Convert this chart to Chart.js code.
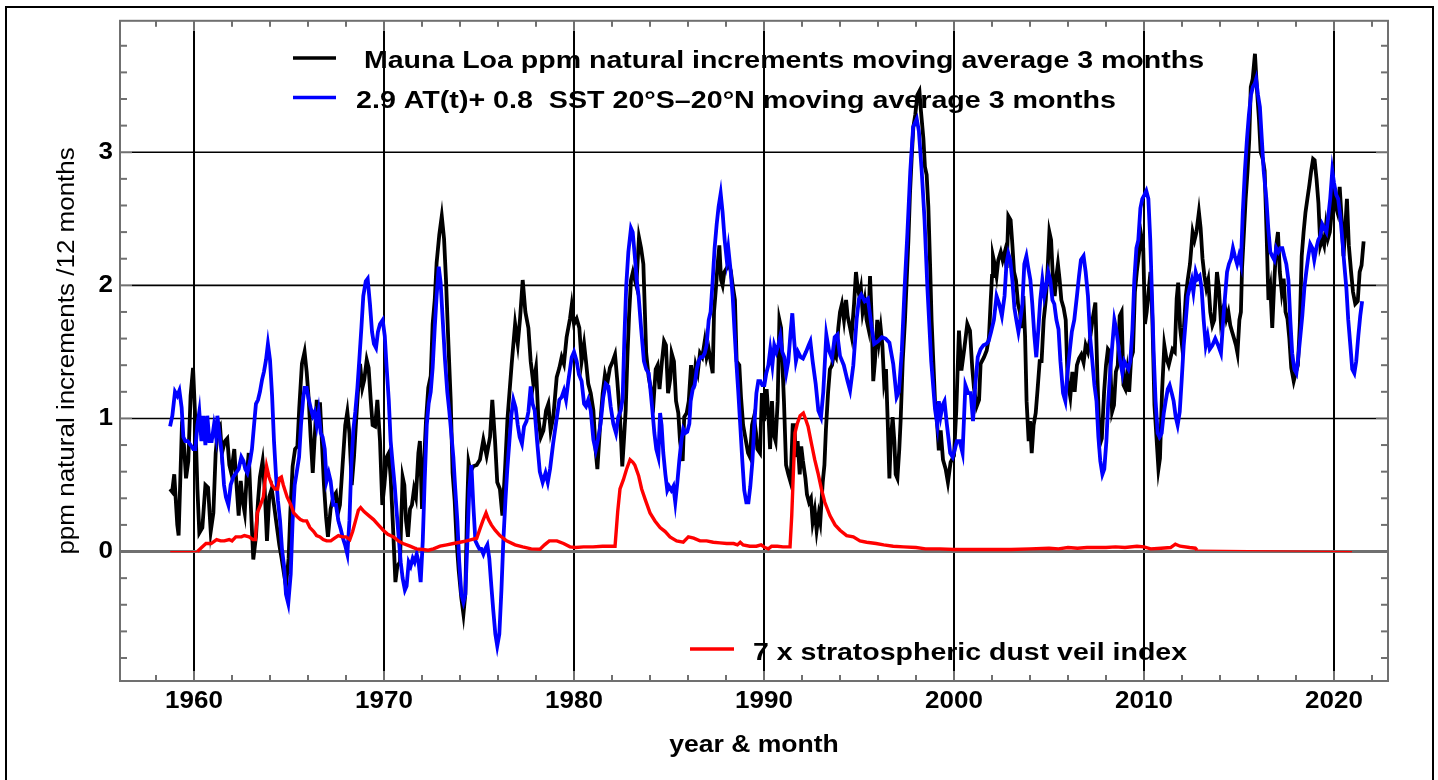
<!DOCTYPE html>
<html><head><meta charset="utf-8">
<script src="https://cdn.jsdelivr.net/npm/chart.js@4.4.1/dist/chart.umd.min.js"></script>
<style>
html,body{margin:0;padding:0;background:#fff;}
#wrap{position:relative;width:1438px;height:780px;overflow:hidden;background:#fff;}
#c{position:absolute;left:0;top:0;}
#frame{position:absolute;left:5px;top:6px;width:1425px;height:820px;border:2px solid #000;pointer-events:none;}
</style></head><body>
<div id="wrap"><canvas id="c" width="1438" height="780"></canvas><div id="frame"></div></div>
<script>
// ---------- DATA ----------
const mlYears = [1958.74,1958.85,1958.96,1959.12,1959.19,1959.35,1959.47,1959.58,1959.70,1959.82,1959.95,1960.07,1960.18,1960.28,1960.44,1960.60,1960.74,1960.88,1961.02,1961.14,1961.25,1961.37,1961.47,1961.63,1961.75,1961.86,1961.96,1962.12,1962.21,1962.35,1962.46,1962.56,1962.67,1962.77,1962.88,1962.98,1963.12,1963.26,1963.37,1963.47,1963.61,1963.72,1963.84,1963.96,1964.09,1964.21,1964.35,1964.49,1964.61,1964.74,1964.84,1964.98,1965.07,1965.19,1965.32,1965.44,1965.54,1965.68,1965.82,1965.93,1966.04,1966.14,1966.25,1966.46,1966.54,1966.63,1966.74,1966.84,1966.95,1967.05,1967.19,1967.33,1967.47,1967.58,1967.68,1967.82,1967.96,1968.07,1968.18,1968.30,1968.42,1968.53,1968.63,1968.74,1968.86,1968.96,1969.09,1969.19,1969.30,1969.40,1969.53,1969.65,1969.79,1969.91,1970.02,1970.14,1970.25,1970.35,1970.46,1970.60,1970.70,1970.84,1970.98,1971.07,1971.16,1971.26,1971.37,1971.47,1971.58,1971.68,1971.81,1971.89,1972.00,1972.11,1972.21,1972.33,1972.46,1972.56,1972.67,1972.77,1972.91,1973.04,1973.16,1973.26,1973.39,1973.51,1973.61,1973.72,1973.82,1973.93,1974.07,1974.18,1974.28,1974.37,1974.45,1974.55,1974.70,1974.88,1975.05,1975.23,1975.40,1975.58,1975.70,1975.84,1975.96,1976.10,1976.23,1976.37,1976.50,1976.72,1976.90,1977.04,1977.16,1977.30,1977.44,1977.60,1977.72,1977.86,1978.00,1978.12,1978.25,1978.39,1978.53,1978.65,1978.77,1978.91,1979.09,1979.23,1979.35,1979.47,1979.61,1979.79,1979.88,1980.00,1980.14,1980.28,1980.40,1980.53,1980.63,1980.75,1980.88,1981.02,1981.14,1981.23,1981.37,1981.51,1981.63,1981.75,1981.89,1982.04,1982.16,1982.28,1982.42,1982.54,1982.63,1982.72,1982.81,1982.90,1983.00,1983.10,1983.28,1983.42,1983.53,1983.65,1983.80,1983.93,1984.05,1984.19,1984.30,1984.40,1984.50,1984.63,1984.74,1984.84,1984.95,1985.07,1985.14,1985.26,1985.37,1985.49,1985.58,1985.72,1985.80,1985.93,1986.04,1986.16,1986.28,1986.40,1986.51,1986.63,1986.75,1986.88,1986.98,1987.09,1987.19,1987.30,1987.37,1987.47,1987.56,1987.65,1987.74,1987.82,1987.91,1988.04,1988.14,1988.25,1988.35,1988.47,1988.56,1988.70,1988.79,1988.90,1989.05,1989.16,1989.26,1989.37,1989.47,1989.58,1989.65,1989.79,1989.89,1990.00,1990.14,1990.25,1990.32,1990.42,1990.49,1990.61,1990.72,1990.81,1990.90,1990.98,1991.05,1991.16,1991.28,1991.40,1991.51,1991.60,1991.67,1991.77,1991.88,1991.96,1992.05,1992.18,1992.26,1992.37,1992.47,1992.56,1992.67,1992.77,1992.88,1992.96,1993.09,1993.18,1993.26,1993.37,1993.47,1993.58,1993.68,1993.79,1993.91,1994.00,1994.10,1994.21,1994.32,1994.40,1994.53,1994.61,1994.74,1994.84,1994.93,1995.02,1995.10,1995.19,1995.30,1995.40,1995.49,1995.58,1995.67,1995.75,1995.84,1995.96,1996.05,1996.14,1996.23,1996.32,1996.42,1996.51,1996.60,1996.67,1996.77,1996.86,1996.93,1997.02,1997.12,1997.19,1997.30,1997.42,1997.51,1997.60,1997.68,1997.77,1997.86,1997.96,1998.07,1998.18,1998.26,1998.39,1998.47,1998.56,1998.65,1998.74,1998.82,1998.91,1999.00,1999.09,1999.20,1999.30,1999.42,1999.56,1999.68,1999.82,2000.00,2000.12,2000.26,2000.39,2000.53,2000.70,2000.84,2000.96,2001.05,2001.19,2001.32,2001.40,2001.58,2001.72,2001.84,2001.93,2002.00,2002.05,2002.14,2002.24,2002.33,2002.46,2002.56,2002.67,2002.77,2002.86,2002.98,2003.07,2003.16,2003.26,2003.37,2003.47,2003.56,2003.65,2003.74,2003.82,2003.93,2004.00,2004.09,2004.19,2004.30,2004.40,2004.51,2004.61,2004.72,2004.83,2004.93,2005.02,2005.11,2005.21,2005.30,2005.39,2005.47,2005.56,2005.65,2005.77,2005.88,2005.98,2006.12,2006.23,2006.35,2006.47,2006.58,2006.70,2006.82,2006.93,2007.05,2007.16,2007.30,2007.44,2007.55,2007.67,2007.78,2007.90,2008.00,2008.10,2008.20,2008.32,2008.42,2008.52,2008.62,2008.72,2008.82,2008.92,2009.02,2009.12,2009.22,2009.32,2009.42,2009.52,2009.62,2009.72,2009.86,2009.96,2010.05,2010.14,2010.24,2010.34,2010.44,2010.55,2010.66,2010.76,2010.84,2010.95,2011.07,2011.18,2011.30,2011.40,2011.50,2011.62,2011.72,2011.80,2011.90,2012.00,2012.10,2012.20,2012.30,2012.42,2012.56,2012.66,2012.76,2012.89,2012.98,2013.08,2013.18,2013.28,2013.38,2013.49,2013.60,2013.70,2013.84,2013.94,2014.04,2014.14,2014.24,2014.34,2014.44,2014.54,2014.64,2014.74,2014.84,2014.92,2015.02,2015.10,2015.16,2015.26,2015.35,2015.45,2015.54,2015.62,2015.72,2015.84,2015.95,2016.05,2016.14,2016.25,2016.35,2016.45,2016.55,2016.65,2016.75,2016.86,2016.96,2017.05,2017.15,2017.25,2017.35,2017.45,2017.55,2017.65,2017.75,2017.88,2018.00,2018.10,2018.20,2018.30,2018.40,2018.50,2018.60,2018.70,2018.80,2018.90,2018.98,2019.08,2019.18,2019.28,2019.38,2019.48,2019.58,2019.68,2019.78,2019.88,2019.98,2020.08,2020.18,2020.30,2020.40,2020.50,2020.60,2020.68,2020.78,2020.90,2021.00,2021.12,2021.25,2021.35,2021.45,2021.56];
const mlValues = [0.47,0.45,0.58,0.20,0.12,0.88,0.80,0.55,0.68,1.17,1.38,0.98,0.47,0.14,0.18,0.50,0.48,0.15,0.29,0.74,0.91,0.94,0.74,0.83,0.85,0.65,0.59,0.77,0.56,0.27,0.53,0.38,0.29,0.56,0.74,0.38,-0.06,0.11,0.38,0.56,0.68,0.47,0.08,0.41,0.47,0.35,0.20,0.05,-0.05,-0.17,-0.26,-0.05,0.29,0.64,0.77,0.79,1.08,1.41,1.50,1.35,1.14,0.86,0.59,1.14,0.98,1.12,0.80,0.50,0.26,0.11,0.32,0.41,0.44,0.29,0.35,0.65,0.95,1.05,0.89,0.50,0.71,0.98,1.20,1.41,1.23,1.29,1.44,1.38,1.14,0.95,0.94,1.14,0.83,0.35,0.50,0.71,0.74,0.56,0.23,-0.23,-0.11,-0.08,0.56,0.50,0.23,0.11,0.32,0.35,0.47,0.41,0.74,0.83,0.32,0.68,0.98,1.23,1.32,1.71,1.89,2.17,2.38,2.52,2.35,2.05,1.56,1.14,0.59,0.38,0.08,-0.14,-0.35,-0.47,-0.32,0.30,0.67,0.60,0.64,0.65,0.69,0.84,0.72,0.86,1.14,0.84,0.52,0.47,0.27,0.62,1.00,1.41,1.71,1.56,1.75,2.04,1.80,1.68,1.43,1.26,1.38,1.01,0.86,0.91,1.06,1.11,0.91,1.01,1.31,1.38,1.46,1.41,1.61,1.75,1.85,1.71,1.75,1.68,1.43,1.56,1.43,1.26,1.19,1.06,0.76,0.62,0.94,1.19,1.33,1.26,1.38,1.43,1.48,1.28,1.01,0.64,0.84,1.06,1.46,1.78,2.04,2.10,2.00,2.36,2.28,2.16,1.49,1.31,1.22,1.13,1.37,1.40,1.22,1.43,1.58,1.55,1.19,1.30,1.49,1.43,1.13,1.04,0.83,0.68,1.01,1.04,1.13,1.40,1.22,1.40,1.34,1.49,1.46,1.58,1.46,1.52,1.43,1.34,1.80,1.98,2.16,2.30,2.04,2.00,2.10,2.13,2.16,2.11,2.00,1.89,1.43,1.40,1.16,0.95,0.83,0.74,0.71,0.95,1.01,0.89,0.77,0.74,1.19,0.98,1.22,0.98,0.77,1.13,0.89,0.83,1.13,1.74,1.68,1.37,1.13,0.65,0.58,0.52,0.95,0.95,0.71,0.83,0.58,0.79,0.68,0.55,0.43,0.37,0.40,0.22,0.31,0.16,0.28,0.22,0.52,0.65,0.92,1.19,1.37,1.40,1.49,1.46,1.68,1.80,1.86,1.74,1.89,1.77,1.68,1.62,1.86,2.10,1.98,1.92,1.98,1.80,1.89,1.74,1.68,2.07,1.74,1.28,1.43,1.74,1.58,1.68,1.55,1.28,1.37,0.98,0.55,0.83,1.01,0.83,0.58,0.55,0.77,0.98,1.43,1.74,2.04,2.34,2.68,2.95,3.19,3.28,3.43,3.46,3.31,3.10,2.89,2.83,2.59,2.16,1.74,1.43,1.13,1.01,0.76,0.91,0.69,0.62,0.52,0.67,0.72,1.06,1.66,1.36,1.51,1.71,1.66,1.38,1.23,1.09,1.14,1.41,1.46,1.51,1.61,1.88,2.07,2.22,2.16,2.07,2.19,2.25,2.19,2.25,2.13,2.52,2.49,2.31,2.10,2.04,1.86,1.80,1.68,1.92,1.62,1.13,0.83,0.98,0.74,0.95,1.04,1.22,1.43,1.43,1.74,1.89,2.13,2.40,2.34,2.04,1.92,2.07,2.16,2.04,1.89,1.83,1.74,1.28,1.16,1.35,1.20,1.40,1.45,1.48,1.42,1.55,1.50,1.60,1.75,1.87,1.30,0.80,0.85,1.20,1.40,1.52,1.50,1.05,1.10,1.35,1.40,1.77,1.80,1.25,1.22,1.35,1.20,1.45,1.50,1.95,2.10,2.22,2.37,2.28,1.71,1.80,1.95,2.10,1.75,1.10,0.85,0.62,0.70,1.20,1.55,1.45,1.40,1.46,1.52,1.50,1.90,2.02,1.68,1.55,1.68,1.92,2.04,2.16,2.40,2.34,2.40,2.55,2.43,2.20,2.07,1.98,2.04,1.80,1.70,1.74,2.10,1.98,1.74,1.82,1.86,1.75,1.80,1.70,1.65,1.60,1.55,1.49,1.74,1.80,2.13,2.40,2.65,2.86,3.10,3.49,3.55,3.74,3.46,3.25,3.00,2.95,2.86,2.40,1.89,1.98,1.68,2.04,2.30,2.40,2.10,1.95,2.05,1.80,1.75,1.60,1.38,1.28,1.35,1.40,1.70,2.22,2.40,2.55,2.65,2.75,2.86,2.95,2.94,2.80,2.62,2.30,2.35,2.30,2.45,2.35,2.40,2.55,2.70,2.60,2.55,2.74,2.50,2.22,2.45,2.65,2.30,2.10,1.95,1.86,1.88,2.10,2.15,2.33];

const sstYears = [1958.74,1958.86,1959.00,1959.12,1959.23,1959.35,1959.44,1959.54,1959.67,1959.82,1959.96,1960.07,1960.18,1960.28,1960.39,1960.49,1960.60,1960.70,1960.81,1960.93,1961.05,1961.16,1961.23,1961.33,1961.46,1961.58,1961.68,1961.81,1961.93,1962.07,1962.21,1962.35,1962.49,1962.60,1962.70,1962.81,1962.95,1963.05,1963.16,1963.26,1963.37,1963.47,1963.58,1963.68,1963.79,1963.89,1964.00,1964.11,1964.21,1964.32,1964.42,1964.53,1964.63,1964.74,1964.84,1964.96,1965.09,1965.19,1965.30,1965.40,1965.53,1965.63,1965.74,1965.82,1965.93,1966.04,1966.14,1966.25,1966.35,1966.46,1966.56,1966.67,1966.77,1966.88,1966.98,1967.09,1967.19,1967.33,1967.47,1967.60,1967.72,1967.82,1967.95,1968.07,1968.18,1968.28,1968.39,1968.49,1968.60,1968.70,1968.81,1968.91,1969.04,1969.14,1969.26,1969.37,1969.47,1969.58,1969.68,1969.79,1969.93,1970.04,1970.14,1970.25,1970.35,1970.46,1970.56,1970.67,1970.77,1970.88,1970.98,1971.10,1971.19,1971.30,1971.40,1971.51,1971.61,1971.72,1971.82,1971.93,1972.04,1972.14,1972.25,1972.35,1972.46,1972.56,1972.67,1972.77,1972.88,1972.98,1973.09,1973.21,1973.33,1973.44,1973.54,1973.65,1973.75,1973.86,1973.96,1974.07,1974.18,1974.28,1974.39,1974.49,1974.60,1974.70,1974.81,1974.91,1975.02,1975.12,1975.23,1975.33,1975.44,1975.54,1975.65,1975.75,1975.86,1975.96,1976.07,1976.18,1976.28,1976.39,1976.49,1976.60,1976.70,1976.81,1976.93,1977.04,1977.14,1977.26,1977.37,1977.50,1977.60,1977.72,1977.82,1977.93,1978.05,1978.20,1978.35,1978.50,1978.62,1978.74,1978.90,1979.10,1979.23,1979.35,1979.47,1979.58,1979.70,1979.88,1980.00,1980.14,1980.26,1980.40,1980.53,1980.63,1980.75,1980.88,1981.02,1981.14,1981.26,1981.40,1981.54,1981.67,1981.81,1981.93,1982.07,1982.21,1982.33,1982.46,1982.56,1982.65,1982.75,1982.86,1983.00,1983.09,1983.20,1983.30,1983.40,1983.53,1983.68,1983.80,1983.93,1984.02,1984.12,1984.23,1984.33,1984.44,1984.53,1984.61,1984.70,1984.81,1984.91,1985.00,1985.12,1985.23,1985.33,1985.44,1985.54,1985.65,1985.75,1985.86,1985.96,1986.07,1986.14,1986.25,1986.35,1986.46,1986.56,1986.67,1986.77,1986.88,1986.98,1987.09,1987.19,1987.30,1987.40,1987.51,1987.61,1987.72,1987.82,1987.93,1988.04,1988.12,1988.25,1988.35,1988.44,1988.54,1988.65,1988.75,1988.86,1988.96,1989.07,1989.18,1989.28,1989.39,1989.49,1989.60,1989.70,1989.81,1989.91,1990.02,1990.12,1990.23,1990.33,1990.44,1990.54,1990.65,1990.75,1990.86,1990.96,1991.07,1991.17,1991.28,1991.40,1991.49,1991.58,1991.68,1991.79,1991.93,1992.05,1992.21,1992.35,1992.44,1992.56,1992.72,1992.86,1993.00,1993.12,1993.28,1993.42,1993.58,1993.72,1993.86,1994.00,1994.20,1994.40,1994.53,1994.70,1994.88,1995.00,1995.12,1995.30,1995.47,1995.67,1995.80,1996.00,1996.20,1996.40,1996.60,1996.80,1996.98,1997.10,1997.25,1997.40,1997.55,1997.70,1997.85,1998.04,1998.15,1998.30,1998.45,1998.60,1998.80,1999.00,1999.12,1999.20,1999.30,1999.40,1999.50,1999.62,1999.80,1999.93,2000.05,2000.15,2000.30,2000.45,2000.60,2000.75,2000.88,2001.00,2001.12,2001.25,2001.40,2001.55,2001.70,2001.82,2001.95,2002.10,2002.24,2002.38,2002.52,2002.66,2002.76,2002.86,2002.96,2003.07,2003.18,2003.28,2003.39,2003.50,2003.60,2003.70,2003.81,2003.91,2004.02,2004.12,2004.23,2004.33,2004.44,2004.54,2004.65,2004.75,2004.86,2004.96,2005.07,2005.18,2005.28,2005.39,2005.50,2005.60,2005.74,2005.86,2005.95,2006.10,2006.20,2006.33,2006.47,2006.58,2006.68,2006.82,2006.93,2007.05,2007.16,2007.28,2007.39,2007.50,2007.60,2007.70,2007.81,2007.91,2008.02,2008.12,2008.23,2008.33,2008.44,2008.54,2008.65,2008.75,2008.86,2008.96,2009.07,2009.18,2009.28,2009.39,2009.49,2009.60,2009.70,2009.81,2009.91,2010.02,2010.12,2010.23,2010.33,2010.42,2010.51,2010.61,2010.72,2010.82,2010.93,2011.04,2011.14,2011.25,2011.35,2011.46,2011.56,2011.67,2011.77,2011.88,2011.98,2012.09,2012.20,2012.30,2012.40,2012.51,2012.60,2012.72,2012.82,2012.93,2013.03,2013.14,2013.25,2013.35,2013.46,2013.60,2013.75,2013.90,2014.05,2014.20,2014.37,2014.47,2014.58,2014.68,2014.78,2014.90,2015.00,2015.10,2015.20,2015.31,2015.42,2015.52,2015.63,2015.73,2015.84,2015.90,2016.00,2016.10,2016.20,2016.30,2016.44,2016.54,2016.65,2016.75,2016.86,2016.96,2017.07,2017.17,2017.28,2017.38,2017.49,2017.60,2017.70,2017.80,2017.91,2018.02,2018.12,2018.23,2018.33,2018.44,2018.54,2018.65,2018.75,2018.86,2018.96,2019.07,2019.17,2019.28,2019.38,2019.49,2019.60,2019.70,2019.80,2019.91,2020.00,2020.12,2020.22,2020.33,2020.44,2020.54,2020.65,2020.75,2020.86,2020.96,2021.07,2021.17,2021.28,2021.38,2021.48];
const sstValues = [0.94,1.02,1.20,1.17,1.21,1.08,0.86,0.83,0.83,0.80,0.77,0.77,0.95,1.05,0.83,1.02,0.80,1.02,0.83,0.83,0.95,0.86,1.02,0.89,0.74,0.50,0.41,0.35,0.50,0.56,0.59,0.62,0.71,0.68,0.62,0.59,0.68,0.77,0.95,1.11,1.14,1.20,1.29,1.35,1.44,1.56,1.44,1.17,0.83,0.56,0.38,0.23,0.02,-0.11,-0.32,-0.39,-0.17,0.23,0.50,0.59,0.71,0.95,1.14,1.23,1.23,1.14,1.08,1.02,1.05,0.95,1.05,0.89,0.86,0.77,0.53,0.59,0.53,0.35,0.35,0.23,0.17,0.11,0.05,-0.02,0.23,0.65,0.92,1.05,1.23,1.44,1.68,1.92,2.03,2.05,1.86,1.65,1.56,1.53,1.65,1.71,1.74,1.62,1.38,1.14,0.83,0.65,0.50,0.29,0.11,-0.08,-0.20,-0.29,-0.26,-0.08,-0.11,-0.05,-0.08,-0.02,-0.08,-0.23,0.08,0.53,0.95,1.11,1.20,1.38,1.68,1.92,2.14,2.02,1.74,1.44,1.20,1.05,0.89,0.71,0.47,0.23,-0.08,-0.32,-0.38,-0.32,0.08,0.47,0.65,0.35,0.08,0.05,0.02,0.02,-0.02,0.02,0.05,-0.05,-0.26,-0.44,-0.62,-0.71,-0.62,-0.29,0.08,0.38,0.62,0.83,1.02,1.14,1.08,0.95,0.86,0.81,0.94,0.98,1.05,1.24,1.11,1.06,0.84,0.60,0.52,0.59,0.52,0.62,0.81,1.01,1.14,1.16,1.21,1.14,1.28,1.46,1.50,1.43,1.33,1.28,1.11,1.09,1.14,1.06,0.84,0.76,0.84,0.96,1.16,1.26,1.24,1.09,0.96,0.89,1.01,1.06,1.15,1.60,2.00,2.25,2.43,2.40,2.22,2.04,1.92,1.68,1.43,1.37,1.34,1.22,1.07,0.89,0.77,0.71,1.04,0.95,0.74,0.58,0.46,0.49,0.46,0.49,0.37,0.52,0.68,0.83,0.92,0.89,0.90,0.96,1.13,1.22,1.25,1.37,1.43,1.46,1.46,1.49,1.55,1.74,1.80,2.04,2.28,2.46,2.59,2.69,2.55,2.34,2.19,2.28,2.10,1.92,1.68,1.43,1.19,0.95,0.68,0.46,0.37,0.37,0.49,0.68,0.95,1.19,1.28,1.28,1.25,1.25,1.34,1.40,1.52,1.40,1.55,1.50,1.55,1.62,1.50,1.46,1.34,1.43,1.65,1.79,1.60,1.43,1.50,1.46,1.45,1.50,1.55,1.58,1.43,1.26,1.06,1.01,1.20,1.63,1.51,1.45,1.61,1.63,1.47,1.40,1.28,1.21,1.40,1.75,1.90,1.93,1.88,1.90,1.68,1.56,1.58,1.61,1.60,1.57,1.41,1.16,1.20,1.50,1.98,2.40,2.86,3.19,3.25,3.16,2.86,2.49,1.98,1.43,1.07,0.95,1.13,1.02,1.10,1.13,0.96,0.74,0.71,0.77,0.83,0.83,0.74,1.25,1.19,1.19,0.98,1.25,1.46,1.52,1.55,1.56,1.58,1.65,1.74,1.92,1.86,1.77,1.92,2.16,2.24,2.19,2.04,1.83,1.74,1.65,1.75,1.86,2.16,2.22,2.13,2.04,1.86,1.62,1.46,1.67,1.89,2.04,1.92,2.00,2.10,2.04,1.89,1.86,1.74,1.67,1.43,1.19,1.13,1.31,1.52,1.65,1.74,1.92,2.07,2.19,2.22,2.10,1.92,1.62,1.43,1.25,1.13,0.86,0.68,0.58,0.62,0.83,1.13,1.37,1.55,1.74,1.67,1.55,1.43,1.34,1.43,1.40,1.37,1.43,1.67,2.04,2.28,2.34,2.58,2.65,2.68,2.71,2.65,2.34,1.92,1.49,1.13,0.89,0.86,0.89,1.04,1.13,1.22,1.25,1.19,1.13,1.01,0.95,1.05,1.28,1.55,1.74,1.92,1.98,2.04,1.95,2.10,2.05,2.07,1.98,1.74,1.55,1.62,1.52,1.55,1.60,1.55,1.49,1.80,2.10,2.16,2.20,2.28,2.22,2.16,2.22,2.16,2.55,2.86,3.10,3.28,3.43,3.49,3.52,3.55,3.43,3.34,3.10,2.86,2.65,2.43,2.25,2.22,2.19,2.28,2.25,2.28,2.28,2.22,2.16,2.04,1.74,1.49,1.37,1.34,1.46,1.62,1.77,1.98,2.10,2.22,2.31,2.28,2.19,2.28,2.34,2.37,2.46,2.43,2.40,2.52,2.65,2.86,2.77,2.68,2.65,2.52,2.34,2.16,1.98,1.74,1.55,1.37,1.34,1.43,1.62,1.77,1.88];

const dustYears = [1958.75,1960.18,1960.40,1960.63,1960.90,1961.19,1961.40,1961.60,1961.85,1962.00,1962.20,1962.50,1962.65,1962.90,1963.10,1963.23,1963.33,1963.50,1963.65,1963.82,1963.95,1964.10,1964.26,1964.40,1964.50,1964.60,1964.70,1964.90,1965.10,1965.25,1965.45,1965.60,1965.75,1965.93,1966.10,1966.30,1966.45,1966.63,1966.80,1966.98,1967.20,1967.40,1967.60,1967.80,1968.00,1968.20,1968.35,1968.50,1968.65,1968.77,1968.95,1969.20,1969.45,1969.70,1969.96,1970.20,1970.50,1970.75,1971.00,1971.37,1971.70,1972.05,1972.33,1972.60,1972.95,1973.30,1973.65,1974.00,1974.35,1974.60,1974.88,1975.05,1975.20,1975.37,1975.50,1975.65,1975.85,1976.10,1976.45,1976.90,1977.30,1977.75,1978.21,1978.45,1978.70,1979.10,1979.45,1979.79,1980.10,1980.50,1981.00,1981.50,1982.16,1982.30,1982.42,1982.60,1982.77,1982.95,1983.10,1983.20,1983.40,1983.56,1983.75,1984.00,1984.26,1984.53,1984.80,1985.05,1985.40,1985.75,1986.02,1986.30,1986.63,1986.98,1987.33,1987.68,1988.04,1988.40,1988.60,1988.75,1988.90,1989.25,1989.60,1989.85,1990.05,1990.23,1990.40,1990.70,1991.00,1991.37,1991.46,1991.54,1991.63,1991.75,1991.90,1992.07,1992.20,1992.32,1992.50,1992.67,1992.84,1993.02,1993.20,1993.47,1993.74,1994.00,1994.35,1994.70,1995.05,1995.40,1995.90,1996.30,1996.80,1997.35,1998.00,1998.50,1999.26,2000.00,2001.00,2002.00,2003.00,2004.00,2005.00,2005.50,2006.00,2006.50,2007.00,2007.50,2008.00,2008.50,2009.00,2009.63,2010.00,2010.35,2010.90,2011.40,2011.65,2011.90,2012.40,2012.70,2012.79,2020.95];
const dustValues = [0,0,0.03,0.06,0.06,0.09,0.08,0.08,0.09,0.08,0.11,0.11,0.12,0.11,0.09,0.09,0.29,0.35,0.41,0.64,0.56,0.50,0.47,0.47,0.55,0.56,0.50,0.41,0.35,0.29,0.26,0.24,0.23,0.23,0.18,0.15,0.12,0.11,0.09,0.08,0.08,0.10,0.12,0.11,0.11,0.09,0.15,0.23,0.31,0.33,0.30,0.27,0.24,0.20,0.16,0.13,0.11,0.08,0.06,0.04,0.02,0.015,0.01,0.02,0.04,0.05,0.06,0.07,0.08,0.09,0.10,0.17,0.23,0.29,0.24,0.20,0.16,0.12,0.08,0.05,0.035,0.02,0.017,0.05,0.08,0.08,0.06,0.035,0.03,0.035,0.035,0.04,0.04,0.30,0.47,0.54,0.62,0.69,0.67,0.65,0.57,0.47,0.39,0.29,0.23,0.18,0.15,0.11,0.08,0.07,0.11,0.10,0.08,0.08,0.07,0.065,0.06,0.06,0.05,0.07,0.05,0.04,0.04,0.05,0.03,0.02,0.04,0.04,0.035,0.035,0.27,0.57,0.89,0.96,1.02,1.04,0.99,0.94,0.81,0.69,0.59,0.47,0.37,0.27,0.20,0.16,0.12,0.11,0.08,0.07,0.06,0.05,0.04,0.035,0.03,0.02,0.02,0.015,0.015,0.015,0.015,0.02,0.025,0.02,0.03,0.025,0.03,0.03,0.03,0.035,0.03,0.04,0.035,0.02,0.025,0.03,0.055,0.04,0.03,0.025,0.01,0];
const dustThinBefore = 1960.1;   // thin baseline part of the dust series (before)
const dustThinAfter = 2012.78;   // thin baseline part of the dust series (after)

const xTickYears = [1960,1970,1980,1990,2000,2010,2020];
const yTickValues = [0,1,2,3];
const seriesLabels = [' Mauna Loa ppm natural increments moving average 3 months', '2.9 AT(t)+ 0.8  SST 20\u00B0S\u201320\u00B0N moving average 3 months', '7 x stratospheric dust veil index'];
const xAxisTitle = 'year & month';
const yAxisTitle = 'ppm natural increments /12 months';

// ---------- CHART ----------
const FONT = '"Liberation Sans", Arial, Helvetica, sans-serif';
const GRAY = '#707070';
const TEXT_SX = 1.13;   // horizontal glyph stretch of the reference typeface
const toXY = (xs, ys) => xs.map((x, i) => ({x, y: ys[i]}));

const canvas = document.getElementById('c');
const c2d = canvas.getContext('2d');
const nativeFill = c2d.fillText.bind(c2d);
c2d.fillText = function (text, x, y, maxWidth) {
  const sx = this.__sx || TEXT_SX;
  this.save();
  this.translate(x, y);
  this.scale(sx, 1);
  if (maxWidth !== undefined && maxWidth !== null) nativeFill(text, 0, 0, maxWidth / sx);
  else nativeFill(text, 0, 0);
  this.restore();
};

const framePlugin = {
  id: 'frame',
  beforeDatasetsDraw(chart) {
    const ctx = chart.ctx;
    const {left, right, top, bottom} = chart.chartArea;
    const xs = chart.scales.x, ys = chart.scales.y;
    const seg = (x1, y1, x2, y2) => { ctx.beginPath(); ctx.moveTo(x1, y1); ctx.lineTo(x2, y2); ctx.stroke(); };
    ctx.save();
    ctx.lineCap = 'butt';
    ctx.strokeStyle = '#000'; ctx.lineWidth = 2;
    for (const v of xTickYears) { const p = xs.getPixelForValue(v); seg(p, top + 10, p, bottom - 10); }
    ctx.lineWidth = 1.6;
    for (const v of yTickValues) { if (v === 0) continue; const p = ys.getPixelForValue(v); seg(left + 12, p, right - 12, p); }
    ctx.strokeStyle = GRAY; ctx.lineWidth = 3;
    const z = ys.getPixelForValue(0); seg(left, z, right, z);
    ctx.lineWidth = 2;
    ctx.strokeRect(left, top, right - left, bottom - top);
    for (let yr = 1958; yr <= 2022; yr += 2) {
      const p = xs.getPixelForValue(yr);
      const len = (yr % 10 === 0) ? 10 : 6;
      seg(p, bottom, p, bottom - len); seg(p, top, p, top + len);
    }
    for (let k = -4; k <= 19; k++) {
      const p = ys.getPixelForValue(k * 0.2);
      const len = (k % 5 === 0) ? 12 : 7;
      seg(left, p, left + len, p); seg(right, p, right - len, p);
    }
    ctx.restore();
  }
};

const legendPlugin = {
  id: 'legendText',
  afterDraw(chart) {
    const ctx = chart.ctx;
    const items = [
      {ds: 2, color: '#000000', x1: 293, x2: 336, ly: 58, tx: 356, ty: 68, tw: 848},
      {ds: 1, color: '#0000ff', x1: 293, x2: 336, ly: 97.5, tx: 356, ty: 108, tw: 760},
      {ds: 0, color: '#ff0000', x1: 690, x2: 734, ly: 649, tx: 753, ty: 660, tw: 434}
    ];
    ctx.save();
    for (const it of items) {
      const label = chart.data.datasets[it.ds].label;
      ctx.strokeStyle = it.color; ctx.lineWidth = 3.6; ctx.lineCap = 'butt';
      ctx.beginPath(); ctx.moveTo(it.x1, it.ly); ctx.lineTo(it.x2, it.ly); ctx.stroke();
      ctx.font = 'bold 23px ' + FONT;
      const w = ctx.measureText(label).width;
      ctx.__sx = it.tw / w;
      ctx.fillStyle = '#000'; ctx.textAlign = 'left'; ctx.textBaseline = 'alphabetic';
      ctx.fillText(label, it.tx, it.ty);
      ctx.__sx = 0;
    }
    ctx.restore();
  }
};

const tickFont = {family: FONT, size: 23, weight: 'bold'};

new Chart(canvas, {
  type: 'line',
  data: {
    datasets: [
      {label: seriesLabels[2], data: toXY(dustYears, dustValues), borderColor: '#ff0000', borderWidth: 3.4, order: 0,
       segment: {borderWidth: c => (c.p0.parsed.x < dustThinBefore || c.p0.parsed.x >= dustThinAfter) ? 1.3 : 3.4}},
      {label: seriesLabels[1], data: toXY(sstYears, sstValues), borderColor: '#0000ff', borderWidth: 3.8, order: 1},
      {label: seriesLabels[0], data: toXY(mlYears, mlValues), borderColor: '#000000', borderWidth: 3.8, order: 2}
    ]
  },
  options: {
    responsive: false, animation: false, devicePixelRatio: 1,
    elements: {point: {radius: 0, hoverRadius: 0}, line: {tension: 0, borderJoinStyle: 'miter', fill: false}},
    layout: {padding: {left: 0, right: 50, top: 13, bottom: 0}},
    plugins: {legend: {display: false}, tooltip: {enabled: false}},
    events: [],
    scales: {
      x: {
        type: 'linear', min: 1956.105, max: 2022.842,
        grid: {display: false, drawTicks: false}, border: {display: false},
        afterBuildTicks: s => { s.ticks = xTickYears.map(v => ({value: v})); },
        afterFit: s => { s.height = 99; },
        ticks: {font: tickFont, color: '#000', padding: 7, maxRotation: 0, autoSkip: false, callback: v => String(v)},
        title: {display: true, text: xAxisTitle, color: '#000', font: {family: FONT, size: 23.5, weight: 'bold'}, padding: {top: 0, bottom: 20}}
      },
      y: {
        type: 'linear', min: -0.9728, max: 3.9876,
        grid: {display: false, drawTicks: false}, border: {display: false},
        afterBuildTicks: s => { s.ticks = yTickValues.map(v => ({value: v})); },
        afterFit: s => { s.width = 120; },
        ticks: {font: tickFont, color: '#000', padding: 7, callback: v => String(v)},
        title: {display: true, text: yAxisTitle, color: '#000', font: {family: FONT, size: 23, weight: 'normal'}, padding: {top: 54, bottom: 0}}
      }
    }
  },
  plugins: [framePlugin, legendPlugin]
});
</script>
</body></html>
